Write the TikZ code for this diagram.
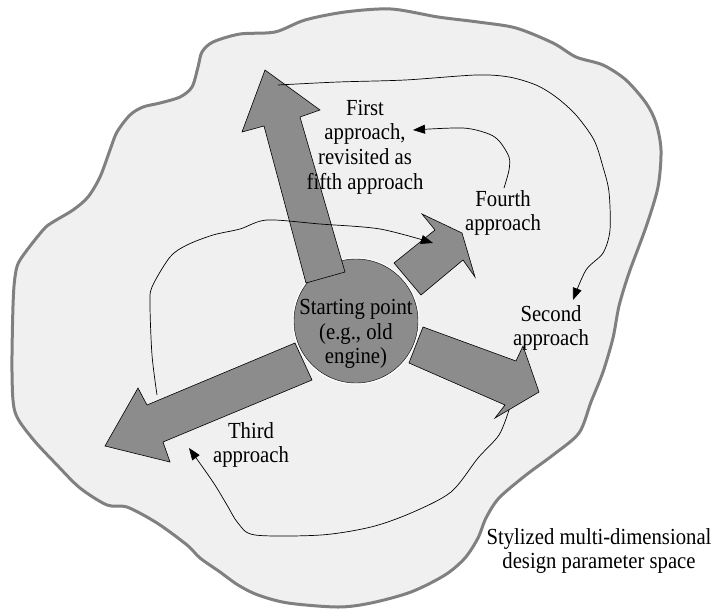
\documentclass[tikz,border=0pt]{standalone}
\usepackage{fontspec}
\setmainfont{Liberation Serif}[FakeStretch=0.9]
\usetikzlibrary{arrows.meta,shapes}
\definecolor{spacegray}{RGB}{240,240,240}
\definecolor{rimgray}{RGB}{128,128,128}
\definecolor{arrowgray}{RGB}{140,140,140}

\begin{document}
\begin{tikzpicture}[x=1pt,y=-1pt,
    lbl/.style={align=center,inner sep=0pt,font=\fontsize{23}{24.7}\selectfont},
    blockarrow/.style={fill=arrowgray,draw=black,line width=0.6pt},
    curve/.style={line width=0.7pt,-{Triangle[length=12pt,width=9pt]}}]
      \useasboundingbox (0,0) rectangle (715,611);

      %design space
      \draw[rimgray,line width=3pt,fill=spacegray] plot[smooth cycle,tension=0.5] coordinates {
        (240,34) (275,32) (305,20) (345,12) (391,9) (438,17) (478,22) (516,28)
        (553,43) (576,57) (603,65) (626,80) (646,103) (656,123) (661,150) (658,187)
        (646,227) (629,273) (619,306) (613,338) (603,372) (591,402) (579,433) (553,455)
        (526,475) (499,498) (486,518) (478,538) (465,558) (445,575) (411,592) (371,603)
        (338,607) (288,603) (258,595) (238,585) (220,572) (200,558) (187,545) (157,523)
        (127,507) (107,505) (80,488) (57,465) (32,438) (15,412) (12,372) (13,306)
        (15,277) (20,260) (43,230) (53,222) (73,210) (88,197) (100,177) (110,150)
        (117,132) (130,115) (143,107) (160,103) (180,97) (192,87) (198,67) (202,52) (213,42)};

      %starting point
      \node[circle,draw=black,fill=arrowgray,minimum size=124pt,inner sep=0pt,
        preaction={draw=white,line width=3pt}] (start) at (356,321) {};

      %block arrows
      \draw[blockarrow] (265,70) -- (320,110) -- (300,117) -- (345,272) -- (306,283) -- (264,126) -- (242,132) -- cycle;
      \draw[blockarrow] (394,263) -- (435,230) -- (422,214) -- (462,233) -- (475,277) -- (463,260) -- (421,295) -- cycle;
      \draw[blockarrow] (423,327) -- (516,361) -- (523,346) -- (539,392) -- (495,418) -- (505,405) -- (409,363) -- cycle;
      \draw[blockarrow] (295,343) -- (147,405) -- (138,388) -- (105,446) -- (170,462) -- (163,442) -- (312,380) -- cycle;

      %labels
      \node[lbl] (first) at (365,147) {First\\approach,\\revisited as\\fifth approach};
      \node[lbl] (fourth) at (503,213) {Fourth\\approach};
      \node[lbl] (second) at (551,328) {Second\\approach};
      \node[lbl] (third) at (251,445) {Third\\approach};
      \node[lbl] (startlbl) at ([yshift=-13pt]start.center) {Starting point\\(e.g., old\\engine)};
      \node[lbl] (space) at (599,551) {Stylized multi-dimensional\\design parameter space};

      %path ends
      \coordinate (c1s) at (278,85);   \coordinate (c1e) at (573,300);
      \coordinate (c2s) at (504,188);  \coordinate (c2e) at (413,130);
      \coordinate (c3s) at (157,395);  \coordinate (c3e) at (433,243);
      \coordinate (c4s) at (509,410);  \coordinate (c4e) at (189,448);

      %order of approaches
      \draw[curve] plot[smooth,tension=0.5] coordinates {(c1s) (338,82) (405,80) (476,75) (509,77) (536,85)
        (556,97) (576,115) (594,140) (603,167) (609,192) (610,230) (603,253) (586,270) (c1e)};
      \draw[curve] plot[smooth,tension=0.5] coordinates {(c2s) (509,170) (509,157) (500,142) (489,134)
        (463,128) (c2e)};
      \draw[curve] plot[smooth,tension=0.5] coordinates {(c3s) (152,355) (150,305) (152,287) (170,257)
        (187,245) (213,235) (240,229) (267,220) (320,224) (380,229) (c3e)};
      \draw[curve] plot[smooth,tension=0.5] coordinates {(c4s) (499,435) (478,458) (451,492) (411,513)
        (371,527) (321,535) (255,535) (238,523) (227,505) (213,482) (c4e)};

    \end{tikzpicture}
\end{document}
